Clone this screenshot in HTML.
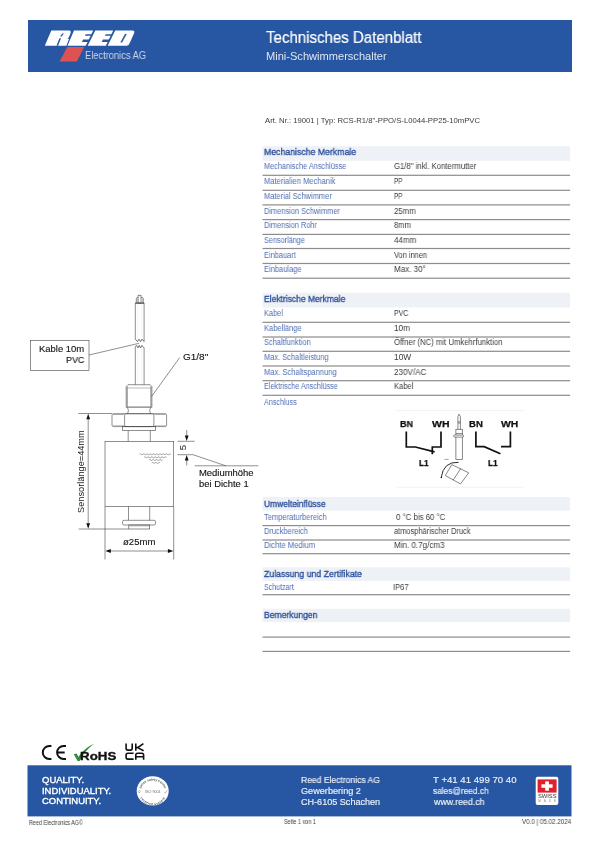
<!DOCTYPE html>
<html><head><meta charset="utf-8"><style>
html,body{margin:0;padding:0;background:#fff;}
body{width:601px;height:850px;position:relative;overflow:hidden;font-family:"Liberation Sans",sans-serif;}
.t{position:absolute;white-space:nowrap;transform-origin:0 0;-webkit-font-smoothing:antialiased;will-change:transform;}
svg{position:absolute;left:0;top:0;will-change:transform;}
</style></head><body>
<svg width="601" height="850" viewBox="0 0 601 850">
<rect x="28" y="20" width="544" height="52" fill="#2757a2"/>
<path fill="#ffffff" d="M44.8,45.7 L51.3,30.5 L69.3,30.5 Q71.3,30.5 70.7,32.7 L68.8,37.6 L67.4,38.3 L69.0,39.0 L66.4,45.7 Z"/>
<polygon fill="#2757a2" points="62.30,33.60 63.90,33.60 61.70,36.50 60.10,36.50"/>
<polygon fill="#2757a2" points="59.40,38.30 61.00,38.30 58.10,45.80 56.50,45.80"/>
<polygon fill="#ffffff" points="67.50,45.70 74.00,30.50 93.20,30.50 85.70,45.70"/>
<polygon fill="#2757a2" points="85.65,34.30 92.33,34.30 91.61,35.75 84.95,35.75"/>
<polygon fill="#2757a2" points="83.10,39.45 89.78,39.45 88.53,42.00 81.90,42.00"/>
<polygon fill="#ffffff" points="87.70,45.70 95.30,30.50 113.20,30.50 105.80,45.70"/>
<polygon fill="#2757a2" points="105.65,34.30 112.35,34.30 111.64,35.75 104.95,35.75"/>
<polygon fill="#2757a2" points="102.90,39.45 109.84,39.45 108.60,42.00 101.70,42.00"/>
<path fill="#ffffff" d="M107.7,45.7 L115.2,30.6 L132.4,30.6 Q134.9,30.6 134.2,33.0 L129.6,43.2 Q128.6,45.7 126.6,45.7 Z"/>
<polygon fill="#2757a2" points="125.00,33.90 126.80,33.90 122.10,42.60 120.30,42.60"/>
<polygon fill="#de5252" points="67.30,47.10 84.20,47.10 76.90,61.50 59.60,61.50"/>
<rect x="262.5" y="146.2" width="307.6" height="14.6" fill="#eef1f5"/>
<rect x="262.5" y="292.8" width="307.6" height="14.7" fill="#eef1f5"/>
<rect x="262.5" y="497.0" width="307.6" height="13.6" fill="#eef1f5"/>
<rect x="262.5" y="567.3" width="307.6" height="13.6" fill="#eef1f5"/>
<rect x="262.5" y="608.8" width="307.6" height="13.3" fill="#eef1f5"/>
<rect x="262.5" y="174.7" width="307.6" height="1.2" fill="#8c8c8c"/>
<rect x="262.5" y="189.7" width="307.6" height="1.2" fill="#8c8c8c"/>
<rect x="262.5" y="204.3" width="307.6" height="1.2" fill="#8c8c8c"/>
<rect x="262.5" y="219.0" width="307.6" height="1.2" fill="#8c8c8c"/>
<rect x="262.5" y="233.8" width="307.6" height="1.2" fill="#8c8c8c"/>
<rect x="262.5" y="247.9" width="307.6" height="1.2" fill="#8c8c8c"/>
<rect x="262.5" y="262.9" width="307.6" height="1.2" fill="#8c8c8c"/>
<rect x="262.5" y="277.6" width="307.6" height="1.2" fill="#8c8c8c"/>
<rect x="262.5" y="321.7" width="307.6" height="1.2" fill="#8c8c8c"/>
<rect x="262.5" y="336.4" width="307.6" height="1.2" fill="#8c8c8c"/>
<rect x="262.5" y="350.7" width="307.6" height="1.2" fill="#8c8c8c"/>
<rect x="262.5" y="365.4" width="307.6" height="1.2" fill="#8c8c8c"/>
<rect x="262.5" y="380.1" width="307.6" height="1.2" fill="#8c8c8c"/>
<rect x="262.5" y="394.7" width="307.6" height="1.2" fill="#8c8c8c"/>
<rect x="262.5" y="525.0" width="307.6" height="1.2" fill="#8c8c8c"/>
<rect x="262.5" y="539.4" width="307.6" height="1.2" fill="#8c8c8c"/>
<rect x="262.5" y="553.1" width="307.6" height="1.2" fill="#8c8c8c"/>
<rect x="262.5" y="594.1" width="307.6" height="1.2" fill="#8c8c8c"/>
<rect x="262.5" y="636.5" width="307.6" height="1.2" fill="#8c8c8c"/>
<rect x="262.5" y="650.8" width="307.6" height="1.2" fill="#8c8c8c"/>
<path d="M136.3,303 V298.8 Q136.3,297.4 137.8,297.4 H138.1 M141,297.4 H141.8 Q143.3,297.4 143.3,298.8 V303" fill="none" stroke="#444" stroke-width="0.6"/>
<rect x="138.1" y="295.2" width="2.9" height="7.8" fill="none" stroke="#444" stroke-width="0.6"/>
<line x1="137.3" y1="298.6" x2="137.3" y2="303" stroke="#888" stroke-width="0.5"/>
<line x1="142.3" y1="298.6" x2="142.3" y2="303" stroke="#888" stroke-width="0.5"/>
<line x1="135.3" y1="303.2" x2="144.1" y2="303.2" stroke="#444" stroke-width="0.9"/>
<line x1="135.3" y1="303" x2="144.1" y2="303" stroke="#444" stroke-width="0.6"/>
<line x1="135.3" y1="303" x2="135.3" y2="339.2" stroke="#444" stroke-width="0.6"/>
<line x1="144.1" y1="303" x2="144.1" y2="341.6" stroke="#444" stroke-width="0.6"/>
<line x1="135.3" y1="346.6" x2="135.3" y2="384.7" stroke="#444" stroke-width="0.6"/>
<line x1="144.1" y1="347.9" x2="144.1" y2="384.7" stroke="#444" stroke-width="0.6"/>
<polyline points="135.3,339.2 137.5,341.6 139,339.2 140.5,341.6 142,339.2 144.1,341.6" fill="none" stroke="#444" stroke-width="0.75"/>
<polyline points="135.3,346.6 136.6,345.4 137.9,347.9 139.2,345.4 140.5,347.9 141.9,345.4 144.1,347.9" fill="none" stroke="#444" stroke-width="0.75"/>
<line x1="137.6" y1="304" x2="137.6" y2="338.5" stroke="#e4e4e4" stroke-width="0.4"/>
<line x1="141.8" y1="304" x2="141.8" y2="338.5" stroke="#e4e4e4" stroke-width="0.4"/>
<line x1="137.6" y1="349" x2="137.6" y2="384" stroke="#e4e4e4" stroke-width="0.4"/>
<line x1="141.8" y1="349" x2="141.8" y2="384" stroke="#e4e4e4" stroke-width="0.4"/>
<path d="M126.2,407.3 V386.5 L128,384.7 H150.1 L151.9,386.5 V407.3 Z" fill="none" stroke="#444" stroke-width="0.6"/>
<rect x="126.2" y="386.5" width="1.6" height="20.8" fill="#9a9a9a"/>
<rect x="150.3" y="386.5" width="1.6" height="20.8" fill="#9a9a9a"/>
<line x1="126.2" y1="407.0" x2="151.9" y2="407.0" stroke="#999" stroke-width="1.1"/>
<line x1="127" y1="388.0" x2="151.2" y2="388.0" stroke="#777" stroke-width="0.5"/>
<path d="M127.4,407.3 Q129.4,410.3 127.6,413.7 M150.7,407.3 Q148.7,410.3 150.5,413.7" fill="none" stroke="#444" stroke-width="0.6"/>
<rect x="112" y="413.7" width="54.6" height="12.9" rx="1.6" fill="none" stroke="#444" stroke-width="0.6"/>
<rect x="124.6" y="413.7" width="29.3" height="12.9" rx="1.6" fill="none" stroke="#444" stroke-width="0.6"/>
<line x1="113" y1="414.3" x2="124" y2="414.3" stroke="#999" stroke-width="1.0"/>
<line x1="113" y1="426" x2="124" y2="426" stroke="#999" stroke-width="1.0"/>
<line x1="154.5" y1="414.3" x2="165.6" y2="414.3" stroke="#999" stroke-width="1.0"/>
<line x1="154.5" y1="426" x2="165.6" y2="426" stroke="#999" stroke-width="1.0"/>
<rect x="122.4" y="426.6" width="33.3" height="4.0" rx="0" fill="none" stroke="#444" stroke-width="0.6"/>
<line x1="128.2" y1="430.6" x2="128.2" y2="441.3" stroke="#444" stroke-width="0.6"/>
<line x1="150.3" y1="430.6" x2="150.3" y2="441.3" stroke="#444" stroke-width="0.6"/>
<rect x="105" y="441.3" width="68.7" height="65.2" rx="0" fill="none" stroke="#444" stroke-width="0.6"/>
<line x1="128.5" y1="506.5" x2="128.5" y2="520.3" stroke="#444" stroke-width="0.6"/>
<line x1="149.7" y1="506.5" x2="149.7" y2="520.3" stroke="#444" stroke-width="0.6"/>
<rect x="122.5" y="520.3" width="33.1" height="4.7" rx="1.5" fill="none" stroke="#444" stroke-width="0.6"/>
<rect x="128.8" y="525" width="20.9" height="4.0" rx="0" fill="none" stroke="#444" stroke-width="0.6"/>
<line x1="129.5" y1="525.8" x2="149" y2="525.8" stroke="#999" stroke-width="0.9"/>
<line x1="78.3" y1="413.5" x2="112" y2="413.5" stroke="#444" stroke-width="0.6"/>
<line x1="78.6" y1="529" x2="128.8" y2="529" stroke="#444" stroke-width="0.6"/>
<line x1="88.2" y1="419" x2="88.2" y2="524" stroke="#444" stroke-width="0.6"/>
<polygon points="88.2,413.8 86.3,419.3 90.1,419.3" fill="#111"/>
<polygon points="88.2,528.7 86.3,523.2 90.1,523.2" fill="#111"/>
<line x1="105" y1="506.5" x2="105" y2="559.5" stroke="#444" stroke-width="0.6"/>
<line x1="173.7" y1="506.5" x2="173.7" y2="559.5" stroke="#444" stroke-width="0.6"/>
<line x1="110" y1="551" x2="168.7" y2="551" stroke="#444" stroke-width="0.6"/>
<polygon points="105.3,551 110.8,549.1 110.8,552.9" fill="#111"/>
<polygon points="173.4,551 167.9,549.1 167.9,552.9" fill="#111"/>
<line x1="177.5" y1="441.3" x2="194.7" y2="441.3" stroke="#444" stroke-width="0.6"/>
<line x1="177.5" y1="454.7" x2="193" y2="454.7" stroke="#444" stroke-width="0.6"/>
<line x1="186.7" y1="430" x2="186.7" y2="436" stroke="#444" stroke-width="0.6"/>
<polygon points="186.7,441.1 184.8,435.6 188.6,435.6" fill="#111"/>
<line x1="186.7" y1="460" x2="186.7" y2="465.5" stroke="#444" stroke-width="0.6"/>
<polygon points="186.7,454.9 184.8,460.4 188.6,460.4" fill="#111"/>
<line x1="193" y1="454.7" x2="225.8" y2="465.8" stroke="#444" stroke-width="0.6"/>
<line x1="194.7" y1="465.8" x2="258.3" y2="465.8" stroke="#444" stroke-width="0.6"/>
<path d="M139.6,454.3 q0.82,-1.0 1.64,0 q0.82,1.0 1.64,0 q0.82,-1.0 1.64,0 q0.82,1.0 1.64,0 q0.82,-1.0 1.64,0 q0.82,1.0 1.64,0 q0.82,-1.0 1.64,0 q0.82,1.0 1.64,0 q0.82,-1.0 1.64,0 q0.82,1.0 1.64,0 q0.82,-1.0 1.64,0 q0.82,1.0 1.64,0 q0.82,-1.0 1.64,0 q0.82,1.0 1.64,0 q0.82,-1.0 1.64,0 q0.82,1.0 1.64,0 q0.82,-1.0 1.64,0 q0.82,1.0 1.64,0 q0.82,-1.0 1.64,0" fill="none" stroke="#555" stroke-width="0.55"/>
<path d="M144.1,457.3 q0.86,-1.0 1.72,0 q0.86,1.0 1.72,0 q0.86,-1.0 1.72,0 q0.86,1.0 1.72,0 q0.86,-1.0 1.72,0 q0.86,1.0 1.72,0 q0.86,-1.0 1.72,0 q0.86,1.0 1.72,0 q0.86,-1.0 1.72,0 q0.86,1.0 1.72,0 q0.86,-1.0 1.72,0 q0.86,1.0 1.72,0 q0.86,-1.0 1.72,0" fill="none" stroke="#555" stroke-width="0.55"/>
<path d="M148.9,460.0 q0.86,-1.0 1.72,0 q0.86,1.0 1.72,0 q0.86,-1.0 1.72,0 q0.86,1.0 1.72,0 q0.86,-1.0 1.72,0 q0.86,1.0 1.72,0 q0.86,-1.0 1.72,0 q0.86,1.0 1.72,0" fill="none" stroke="#555" stroke-width="0.55"/>
<path d="M151.8,462.9 q0.82,-1.0 1.64,0 q0.82,1.0 1.64,0 q0.82,-1.0 1.64,0 q0.82,1.0 1.64,0 q0.82,-1.0 1.64,0" fill="none" stroke="#555" stroke-width="0.55"/>
<rect x="30.4" y="340.4" width="58.6" height="30" rx="0" fill="none" stroke="#444" stroke-width="0.6"/>
<line x1="89" y1="355" x2="139" y2="343.3" stroke="#444" stroke-width="0.6"/>
<line x1="179.6" y1="357.7" x2="151.6" y2="396.5" stroke="#444" stroke-width="0.6"/>
<path d="M396.2,410.6 H523.6 M396.2,487.2 H523.6" fill="none" stroke="#f0f0f0" stroke-width="0.9"/>
<path d="M406.3,431.5 V447 H415.4 L434.6,451.9" fill="none" stroke="#111" stroke-width="1.7"/>
<path d="M441,431.5 V447 H432.3 V454.3" fill="none" stroke="#111" stroke-width="1.7"/>
<path d="M475.9,431.6 V446.6 H484.2 L500.4,453.8" fill="none" stroke="#111" stroke-width="1.7"/>
<path d="M510.4,431.6 V446.6 H501" fill="none" stroke="#111" stroke-width="1.7"/>
<path d="M459.1,414.1 L457.9,416.5 V429.3 M459.1,414.1 L460.4,416.5 V429.3 M457.9,421.9 H460.4 M457.9,423 H460.4" fill="none" stroke="#555" stroke-width="0.7"/>
<rect x="455.9" y="429.3" width="6.4" height="30.2" fill="none" stroke="#555" stroke-width="0.7"/>
<rect x="453.6" y="435.1" width="10.1" height="2.0" rx="1.0" fill="#fff" stroke="#555" stroke-width="0.7"/>
<line x1="455.9" y1="433.6" x2="462.3" y2="433.6" stroke="#555" stroke-width="0.7"/>
<polygon points="451.8,464.6 468.7,472.8 460.5,483.9 445.3,475.6" fill="none" stroke="#555" stroke-width="0.7"/>
<line x1="460.9" y1="468.3" x2="453.1" y2="480.2" stroke="#555" stroke-width="0.7"/>
<path d="M458.6,462.3 Q443.5,461.5 441.2,477.4" fill="none" stroke="#222" stroke-width="0.95"/>
<circle cx="441.3" cy="477.6" r="0.75" fill="#222"/>
<line x1="444.4" y1="459.5" x2="448.6" y2="459.3" stroke="#666" stroke-width="0.6"/>
<rect x="27.5" y="765.3" width="544" height="51.1" fill="#2757a2"/>
<path d="M51.4,745.95 H49.3 A6.5,6.5 0 0 0 49.3,758.95 H51.4" fill="none" stroke="#111" stroke-width="2.0"/>
<path d="M66.0,745.95 H63.6 A6.5,6.5 0 0 0 63.6,758.95 H66.0 M58.0,752.45 H64.7" fill="none" stroke="#111" stroke-width="2.0"/>
<path d="M73.8,754.2 L76.6,753.4 L78.4,757.0 C82,751.5 88,746.2 94.2,743.8 C88.6,747.6 83.2,753.8 79.6,760.9 L77.6,761.0 Z" fill="#2f8a3c"/>
<path d="M126.1,743.6 V748.3 Q126.1,750.1 127.9,750.1 H130.4 Q132.2,750.1 132.2,748.3 V743.6" fill="none" stroke="#111" stroke-width="1.6"/>
<path d="M135.8,743.6 V750.8 M135.8,747.6 H137.6 L143.4,743.6 M137.6,747.6 L143.6,750.8" fill="none" stroke="#111" stroke-width="1.6"/>
<path d="M133.6,753.3 H127.9 Q126.1,753.3 126.1,755.1 V757.3 Q126.1,759.1 127.9,759.1 H133.6" fill="none" stroke="#111" stroke-width="1.6"/>
<path d="M135.8,759.8 V755.1 Q135.8,753.3 137.6,753.3 H141.8 Q143.6,753.3 143.6,755.1 V759.8 M135.8,756.7 H143.6" fill="none" stroke="#111" stroke-width="1.6"/>
<ellipse cx="152.7" cy="790.9" rx="16" ry="14.6" fill="#ffffff"/>
<path id="arcT" d="M140.6,791.6 A12.1,11.0 0 0 1 164.8,791.6" fill="none"/>
<path id="arcB" d="M141.6,792.6 A11.1,10.4 0 0 0 163.8,792.6" fill="none"/>
<text font-size="3.3" fill="#555" font-family="Liberation Sans" font-weight="bold"><textPath href="#arcT" startOffset="50%" text-anchor="middle">swiss safety center</textPath></text>
<text font-size="3.3" fill="#555" font-family="Liberation Sans" font-weight="bold" dy="2.4"><textPath href="#arcB" startOffset="50%" text-anchor="middle">certified system</textPath></text>
<text x="152.8" y="793.3" font-size="4.0" fill="#666" font-family="Liberation Sans" text-anchor="middle" textLength="15.4" lengthAdjust="spacingAndGlyphs">ISO 9001</text>
<path d="M138.2,791.7 L139.3,790.4 L140.4,791.7 L139.3,793 Z M164.4,792.2 L165.4,793.2 L167,790.3" fill="none" stroke="#666" stroke-width="0.45"/>
<rect x="535.7" y="776.8" width="22.6" height="28.3" rx="2.0" fill="#ffffff"/>
<rect x="537.6" y="779.4" width="19.0" height="13.2" fill="#e0202a"/>
<rect x="545.2" y="781.4" width="3.7" height="9.3" fill="#ffffff"/>
<rect x="541.4" y="784.3" width="11.2" height="3.5" fill="#ffffff"/>
<text x="537.9" y="798.4" font-size="5.7" fill="#333" font-family="Liberation Sans" textLength="18.7" lengthAdjust="spacingAndGlyphs">SWISS</text>
<text x="538.3" y="802.4" font-size="3.2" fill="#888" font-family="Liberation Sans" textLength="17.8" lengthAdjust="spacing">MADE</text>
<text x="84" y="512.9" transform="rotate(-90 84 512.9)" font-size="9.5" textLength="82.6" lengthAdjust="spacingAndGlyphs" fill="#222" font-family="Liberation Sans">Sensorlänge=44mm</text>
<text x="186" y="450.2" transform="rotate(-90 186 450.2)" font-size="9.6" fill="#222" font-family="Liberation Sans">5</text>
</svg>
<div class="t" style="left:266.00px;top:29.55px;font-size:16.0px;line-height:16.0px;color:#ffffff;transform:scaleX(0.9398);-webkit-text-stroke:0.2px #ffffff;">Technisches Datenblatt</div>
<div class="t" style="left:266.20px;top:50.86px;font-size:10.8px;line-height:10.8px;color:#dfe5f1;transform:scaleX(1.0255);">Mini-Schwimmerschalter</div>
<div class="t" style="left:84.70px;top:49.76px;font-size:10.8px;line-height:10.8px;color:#cdd6ea;transform:scaleX(0.8619);">Electronics AG</div>
<div class="t" style="left:264.70px;top:117.40px;font-size:7.2px;line-height:7.2px;color:#3a3a3a;transform:scaleX(1.0709);">Art. Nr.: 19001 | Typ: RCS-R1/8"-PPO/S-L0044-PP25-10mPVC</div>
<div class="t" style="left:264.20px;top:147.20px;font-size:9.8px;line-height:9.8px;color:#2b4f9b;transform:scaleX(0.8904);-webkit-text-stroke:0.35px #2b4f9b;">Mechanische Merkmale</div>
<div class="t" style="left:264.40px;top:162.37px;font-size:8.3px;line-height:8.3px;color:#4f6db3;transform:scaleX(0.8829);">Mechanische Anschlüsse</div>
<div class="t" style="left:393.80px;top:162.37px;font-size:8.3px;line-height:8.3px;color:#3a3a3a;transform:scaleX(0.9323);">G1/8" inkl. Kontermutter</div>
<div class="t" style="left:264.40px;top:177.37px;font-size:8.3px;line-height:8.3px;color:#4f6db3;transform:scaleX(0.9111);">Materialien Mechanik</div>
<div class="t" style="left:393.80px;top:177.37px;font-size:8.3px;line-height:8.3px;color:#3a3a3a;transform:scaleX(0.7630);">PP</div>
<div class="t" style="left:264.40px;top:191.97px;font-size:8.3px;line-height:8.3px;color:#4f6db3;transform:scaleX(0.9021);">Material Schwimmer</div>
<div class="t" style="left:393.80px;top:191.97px;font-size:8.3px;line-height:8.3px;color:#3a3a3a;transform:scaleX(0.7630);">PP</div>
<div class="t" style="left:264.40px;top:206.67px;font-size:8.3px;line-height:8.3px;color:#4f6db3;transform:scaleX(0.8957);">Dimension Schwimmer</div>
<div class="t" style="left:393.80px;top:206.67px;font-size:8.3px;line-height:8.3px;color:#3a3a3a;transform:scaleX(0.9378);">25mm</div>
<div class="t" style="left:264.40px;top:221.47px;font-size:8.3px;line-height:8.3px;color:#4f6db3;transform:scaleX(0.8908);">Dimension Rohr</div>
<div class="t" style="left:393.80px;top:221.47px;font-size:8.3px;line-height:8.3px;color:#3a3a3a;transform:scaleX(0.9176);">8mm</div>
<div class="t" style="left:264.40px;top:235.57px;font-size:8.3px;line-height:8.3px;color:#4f6db3;transform:scaleX(0.8771);">Sensorlänge</div>
<div class="t" style="left:393.80px;top:235.57px;font-size:8.3px;line-height:8.3px;color:#3a3a3a;transform:scaleX(0.9637);">44mm</div>
<div class="t" style="left:264.40px;top:250.57px;font-size:8.3px;line-height:8.3px;color:#4f6db3;transform:scaleX(0.8947);">Einbauart</div>
<div class="t" style="left:393.80px;top:250.57px;font-size:8.3px;line-height:8.3px;color:#3a3a3a;transform:scaleX(0.8955);">Von innen</div>
<div class="t" style="left:264.40px;top:265.27px;font-size:8.3px;line-height:8.3px;color:#4f6db3;transform:scaleX(0.9044);">Einbaulage</div>
<div class="t" style="left:393.80px;top:265.27px;font-size:8.3px;line-height:8.3px;color:#3a3a3a;transform:scaleX(0.9688);">Max. 30°</div>
<div class="t" style="left:264.20px;top:294.20px;font-size:9.8px;line-height:9.8px;color:#2b4f9b;transform:scaleX(0.8674);-webkit-text-stroke:0.35px #2b4f9b;">Elektrische Merkmale</div>
<div class="t" style="left:264.40px;top:309.27px;font-size:8.3px;line-height:8.3px;color:#4f6db3;transform:scaleX(0.8888);">Kabel</div>
<div class="t" style="left:393.80px;top:309.27px;font-size:8.3px;line-height:8.3px;color:#3a3a3a;transform:scaleX(0.8437);">PVC</div>
<div class="t" style="left:264.40px;top:323.97px;font-size:8.3px;line-height:8.3px;color:#4f6db3;transform:scaleX(0.9044);">Kabellänge</div>
<div class="t" style="left:393.80px;top:323.97px;font-size:8.3px;line-height:8.3px;color:#3a3a3a;transform:scaleX(0.9859);">10m</div>
<div class="t" style="left:264.40px;top:338.27px;font-size:8.3px;line-height:8.3px;color:#4f6db3;transform:scaleX(0.8952);">Schaltfunktion</div>
<div class="t" style="left:393.80px;top:338.27px;font-size:8.3px;line-height:8.3px;color:#3a3a3a;transform:scaleX(0.9309);">Öffner (NC) mit Umkehrfunktion</div>
<div class="t" style="left:264.40px;top:352.97px;font-size:8.3px;line-height:8.3px;color:#4f6db3;transform:scaleX(0.8987);">Max. Schaltleistung</div>
<div class="t" style="left:393.80px;top:352.97px;font-size:8.3px;line-height:8.3px;color:#3a3a3a;transform:scaleX(1.0099);">10W</div>
<div class="t" style="left:264.40px;top:367.67px;font-size:8.3px;line-height:8.3px;color:#4f6db3;transform:scaleX(0.9105);">Max. Schaltspannung</div>
<div class="t" style="left:393.80px;top:367.67px;font-size:8.3px;line-height:8.3px;color:#3a3a3a;transform:scaleX(0.9754);">230V/AC</div>
<div class="t" style="left:264.40px;top:382.27px;font-size:8.3px;line-height:8.3px;color:#4f6db3;transform:scaleX(0.8694);">Elektrische Anschlüsse</div>
<div class="t" style="left:393.80px;top:382.27px;font-size:8.3px;line-height:8.3px;color:#3a3a3a;transform:scaleX(0.9075);">Kabel</div>
<div class="t" style="left:264.40px;top:397.67px;font-size:8.3px;line-height:8.3px;color:#4f6db3;transform:scaleX(0.8629);">Anschluss</div>
<div class="t" style="left:264.20px;top:498.70px;font-size:9.8px;line-height:9.8px;color:#2b4f9b;transform:scaleX(0.8626);-webkit-text-stroke:0.35px #2b4f9b;">Umwelteinflüsse</div>
<div class="t" style="left:264.40px;top:512.67px;font-size:8.3px;line-height:8.3px;color:#4f6db3;transform:scaleX(0.9057);">Temperaturbereich</div>
<div class="t" style="left:396.20px;top:512.67px;font-size:8.3px;line-height:8.3px;color:#3a3a3a;transform:scaleX(0.9427);">0 °C bis 60 °C</div>
<div class="t" style="left:264.40px;top:527.07px;font-size:8.3px;line-height:8.3px;color:#4f6db3;transform:scaleX(0.8972);">Druckbereich</div>
<div class="t" style="left:393.80px;top:527.07px;font-size:8.3px;line-height:8.3px;color:#3a3a3a;transform:scaleX(0.8961);">atmosphärischer Druck</div>
<div class="t" style="left:264.40px;top:540.77px;font-size:8.3px;line-height:8.3px;color:#4f6db3;transform:scaleX(0.9239);">Dichte Medium</div>
<div class="t" style="left:393.80px;top:540.77px;font-size:8.3px;line-height:8.3px;color:#3a3a3a;transform:scaleX(0.9697);">Min. 0.7g/cm3</div>
<div class="t" style="left:264.20px;top:569.10px;font-size:9.8px;line-height:9.8px;color:#2b4f9b;transform:scaleX(0.8901);-webkit-text-stroke:0.35px #2b4f9b;">Zulassung und Zertifikate</div>
<div class="t" style="left:264.40px;top:582.87px;font-size:8.3px;line-height:8.3px;color:#4f6db3;transform:scaleX(0.8505);">Schutzart</div>
<div class="t" style="left:393.10px;top:582.87px;font-size:8.3px;line-height:8.3px;color:#3a3a3a;transform:scaleX(0.9110);">IP67</div>
<div class="t" style="left:264.20px;top:609.60px;font-size:9.8px;line-height:9.8px;color:#2b4f9b;transform:scaleX(0.8753);-webkit-text-stroke:0.35px #2b4f9b;">Bemerkungen</div>
<div class="t" style="left:39.00px;top:344.61px;font-size:9.2px;line-height:9.2px;color:#111;transform:scaleX(1.0300);-webkit-text-stroke:0.12px #111;">Kable 10m</div>
<div class="t" style="left:66.00px;top:355.81px;font-size:9.2px;line-height:9.2px;color:#111;transform:scaleX(0.9659);-webkit-text-stroke:0.12px #111;">PVC</div>
<div class="t" style="left:183.30px;top:352.81px;font-size:9.2px;line-height:9.2px;color:#111;transform:scaleX(1.0865);-webkit-text-stroke:0.12px #111;">G1/8"</div>
<div class="t" style="left:198.70px;top:469.08px;font-size:9.0px;line-height:9.0px;color:#111;transform:scaleX(1.0495);-webkit-text-stroke:0.12px #111;">Mediumhöhe</div>
<div class="t" style="left:198.70px;top:479.58px;font-size:9.0px;line-height:9.0px;color:#111;transform:scaleX(1.0437);-webkit-text-stroke:0.12px #111;">bei Dichte 1</div>
<div class="t" style="left:123.20px;top:538.38px;font-size:9.0px;line-height:9.0px;color:#111;transform:scaleX(1.0598);-webkit-text-stroke:0.12px #111;">ø25mm</div>
<div class="t" style="left:399.70px;top:418.94px;font-size:9.4px;line-height:9.4px;color:#111;transform:scaleX(0.9658);font-weight:bold;-webkit-text-stroke:0.25px #111;">BN</div>
<div class="t" style="left:432.00px;top:418.94px;font-size:9.4px;line-height:9.4px;color:#111;transform:scaleX(1.1168);font-weight:bold;-webkit-text-stroke:0.25px #111;">WH</div>
<div class="t" style="left:418.90px;top:457.64px;font-size:9.4px;line-height:9.4px;color:#111;transform:scaleX(0.8670);font-weight:bold;-webkit-text-stroke:0.25px #111;">L1</div>
<div class="t" style="left:468.70px;top:419.14px;font-size:9.4px;line-height:9.4px;color:#111;transform:scaleX(1.0167);font-weight:bold;-webkit-text-stroke:0.25px #111;">BN</div>
<div class="t" style="left:501.40px;top:419.14px;font-size:9.4px;line-height:9.4px;color:#111;transform:scaleX(1.1105);font-weight:bold;-webkit-text-stroke:0.25px #111;">WH</div>
<div class="t" style="left:488.20px;top:458.04px;font-size:9.4px;line-height:9.4px;color:#111;transform:scaleX(0.8763);font-weight:bold;-webkit-text-stroke:0.25px #111;">L1</div>
<div class="t" style="left:41.80px;top:775.98px;font-size:9.0px;line-height:9.0px;color:#ffffff;transform:scaleX(1.0547);-webkit-text-stroke:0.35px #ffffff;">QUALITY.</div>
<div class="t" style="left:41.80px;top:786.68px;font-size:9.0px;line-height:9.0px;color:#ffffff;transform:scaleX(1.0497);-webkit-text-stroke:0.35px #ffffff;">INDIVIDUALITY.</div>
<div class="t" style="left:41.80px;top:797.38px;font-size:9.0px;line-height:9.0px;color:#ffffff;transform:scaleX(1.0477);-webkit-text-stroke:0.35px #ffffff;">CONTINUITY.</div>
<div class="t" style="left:301.30px;top:775.76px;font-size:8.9px;line-height:8.9px;color:#eef1f8;transform:scaleX(0.9640);-webkit-text-stroke:0.15px #eef1f8;">Reed Electronics AG</div>
<div class="t" style="left:301.30px;top:786.76px;font-size:8.9px;line-height:8.9px;color:#eef1f8;transform:scaleX(1.0296);-webkit-text-stroke:0.15px #eef1f8;">Gewerbering 2</div>
<div class="t" style="left:301.30px;top:797.76px;font-size:8.9px;line-height:8.9px;color:#eef1f8;transform:scaleX(1.0217);-webkit-text-stroke:0.15px #eef1f8;">CH-6105 Schachen</div>
<div class="t" style="left:433.20px;top:775.86px;font-size:8.9px;line-height:8.9px;color:#eef1f8;transform:scaleX(1.0842);-webkit-text-stroke:0.15px #eef1f8;">T +41 41 499 70 40</div>
<div class="t" style="left:433.20px;top:786.76px;font-size:8.9px;line-height:8.9px;color:#eef1f8;transform:scaleX(0.9378);-webkit-text-stroke:0.15px #eef1f8;">sales@reed.ch</div>
<div class="t" style="left:434.19px;top:797.76px;font-size:8.9px;line-height:8.9px;color:#eef1f8;transform:scaleX(0.9948);-webkit-text-stroke:0.15px #eef1f8;">www.reed.ch</div>
<div class="t" style="left:80.40px;top:750.62px;font-size:10.6px;line-height:10.6px;color:#111;transform:scaleX(1.2582);font-weight:bold;-webkit-text-stroke:0.3px #111;">RoHS</div>
<div class="t" style="left:29.30px;top:819.58px;font-size:6.4px;line-height:6.4px;color:#3a3a3a;transform:scaleX(0.8474);">Reed Electronics AG©</div>
<div class="t" style="left:284.00px;top:819.48px;font-size:6.4px;line-height:6.4px;color:#3a3a3a;transform:scaleX(0.8530);">Seite 1 von 1</div>
<div class="t" style="left:522.40px;top:819.48px;font-size:6.4px;line-height:6.4px;color:#3a3a3a;transform:scaleX(0.9746);">V0.0 | 05.02.2024</div>



</body></html>
